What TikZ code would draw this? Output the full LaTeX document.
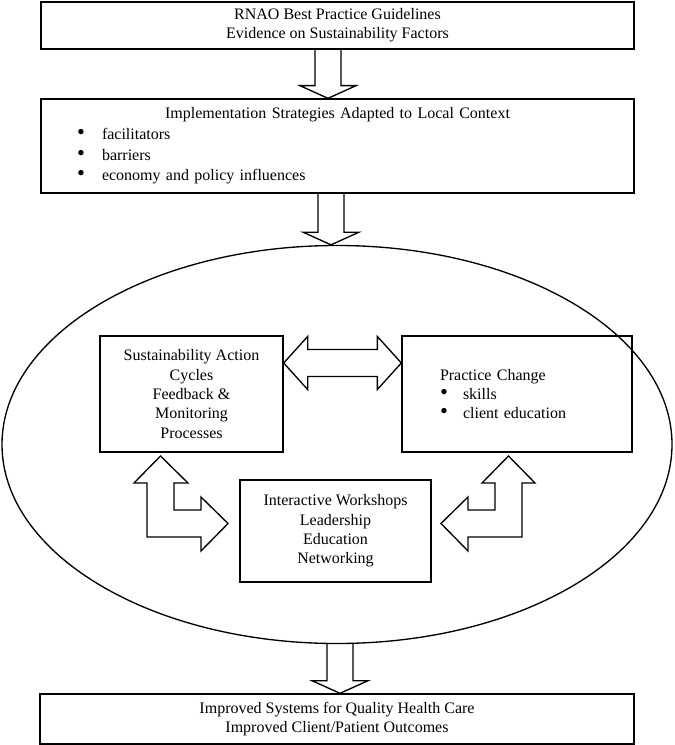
\documentclass[tikz,border=0pt]{standalone}
\usepackage{fontspec}
\setmainfont{Liberation Serif}
\usetikzlibrary{shapes.geometric, calc}

% bullet of a fixed width
\newcommand{\bitem}[1]{\makebox[#1][l]{\scalebox{1.4}{\textbullet}}}
% hollow block arrow pointing down: x (px), from node, to node
\newcommand{\downblk}[3]{%
  \draw[blk] let \p0=(#1,0), \p1=(#2.south), \p2=(#3.north) in
    (\x0-9.75pt,\y1) -- (\x0-9.75pt,\y2+9.5pt) -- (\x0-21pt,\y2+9.5pt)
    -- (\x0,\y2) -- (\x0+21pt,\y2+9.5pt) -- (\x0+9.75pt,\y2+9.5pt)
    -- (\x0+9.75pt,\y1);}

\begin{document}
\begin{tikzpicture}[x=0.75pt, y=-0.75pt,
    box/.style={draw, line width=1pt, inner sep=0pt, align=center,
                font=\fontsize{12}{14.5}\selectfont},
    blk/.style={draw, line width=1pt, line join=miter}
  ]
  \useasboundingbox (0,0) rectangle (674,745);

  \node[box, minimum width=444.75pt, minimum height=35.25pt] (guide) at (337.5,25.5)
        {RNAO Best Practice Guidelines\\Evidence on Sustainability Factors};
  \node[box, align=left, inner xsep=27pt, text width=390.75pt, minimum height=70.5pt,
        font=\fontsize{12}{15.5}\selectfont] (strat) at (337.5,146)
        {\makebox[\linewidth]{Implementation Strategies Adapted to Local Context}\\
         \bitem{18.75pt}facilitators\\
         \bitem{18.75pt}barriers\\
         \bitem{18.75pt}economy and policy influences};

  \node[ellipse, draw, line width=1pt, inner sep=0pt,
        minimum width=502.5pt, minimum height=298.5pt] (oval) at (337,444.5) {};

  \node[box, minimum width=137.25pt, minimum height=87pt] (sust) at (191.5,394)
        {Sustainability Action\\Cycles\\Feedback \&\\Monitoring\\Processes};
  \node[box, align=left, inner xsep=28.5pt, text width=115.5pt, minimum height=87pt]
        (prac) at (517,394)
        {Practice Change\\\bitem{17.25pt}skills\\\bitem{17.25pt}client education};
  \node[box, minimum width=143.25pt, minimum height=76.5pt] (work) at (335.5,531)
        {Interactive Workshops\\Leadership\\Education\\Networking};

  \node[box, minimum width=445.5pt, minimum height=37.5pt] (outc) at (337,719)
        {Improved Systems for Quality Health Care\\Improved Client/Patient Outcomes};

  % block arrows down the page
  \downblk{328}{guide}{strat}
  \downblk{331}{strat}{oval}
  \downblk{340}{oval}{outc}

  % two-way arrow between the upper boxes
  \draw[blk] let \p1=([yshift=23.25pt]sust.east), \p2=(prac.west) in
    (\x1,\y1) -- (\x1+18pt,\y1+19.9pt) -- (\x1+18pt,\y1+10.1pt)
    -- (\x2-18pt,\y1+10.1pt) -- (\x2-18pt,\y1+19.9pt) -- (\x2,\y1)
    -- (\x2-18pt,\y1-19.9pt) -- (\x2-18pt,\y1-10.1pt)
    -- (\x1+18pt,\y1-10.1pt) -- (\x1+18pt,\y1-19.9pt) -- cycle;

  % bent arrows to the workshops
  \draw[blk] (134,483) -- (160.5,456) -- (188,483) -- (174,483) -- (174,510)
    -- (201,510) -- (201,497) -- (228,523.5) -- (201,551) -- (201,537)
    -- (147,537) -- (147,483) -- cycle;
  \draw[blk] (482,483) -- (508.5,456) -- (535,483) -- (522,483) -- (522,537)
    -- (468,537) -- (468,551) -- (441,523.5) -- (468,497) -- (468,510)
    -- (495,510) -- (495,483) -- cycle;
\end{tikzpicture}
\end{document}
